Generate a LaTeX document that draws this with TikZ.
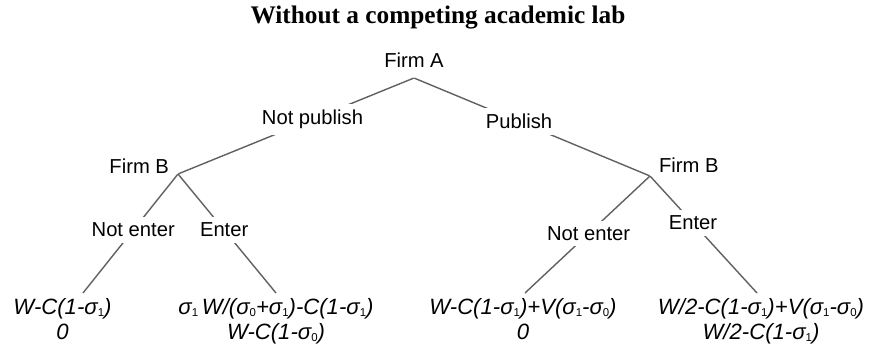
\documentclass[tikz,border=0pt]{standalone}
\usepackage{fontspec}
\setmainfont{Liberation Sans}
\newfontfamily\titlefont{Liberation Serif}
\usepackage{tikz}
\usetikzlibrary{calc}
\newcommand{\sg}[1]{σ\raisebox{-0.1ex}{\fontsize{6.5}{6.5}\selectfont\upshape #1}}

\begin{document}
\begin{tikzpicture}
        \tikzset{VertexStyle/.style = {shape = circle,minimum size = 0,inner sep=0},
                 EdgeStyle/.style = {draw,black!62,line width=0.8pt},
                 ChoiceStyle/.style = {fill=white,text=black,font=\fontsize{11.5}{14}\selectfont},
                 LeafStyle/.style = {align=center,anchor=north,inner sep=2pt,font=\fontsize{12.6}{14.2}\selectfont\itshape},
                 FirmLabel/.style = {font=\fontsize{11.5}{14}\selectfont}}
    \useasboundingbox (0,0) rectangle (17.48,7.08);

    \node[font=\titlefont\bfseries\fontsize{14.4}{17}\selectfont] at (8.76,6.72) (title) {Without a competing academic lab};

    \node[VertexStyle] [label={[FirmLabel,label distance=0.08cm]90:Firm A}] at (8.28,5.52) (A) {};
    \node[VertexStyle] [label={[FirmLabel,label distance=0.05cm,yshift=0.16cm]180:Firm B}] at (3.56,3.60) (B1) {};
    \node[VertexStyle] [label={[FirmLabel,label distance=0.05cm,yshift=0.21cm]0:Firm B}] at (13.00,3.56) (B2) {};

    \node[LeafStyle] at (1.25,1.18) (l1) {W-C(1-\sg{1})\\0};
    \node[LeafStyle] at (5.52,1.18) (l2) {\sg{1}\,W/(\sg{0}+\sg{1})-C(1-\sg{1})\\W-C(1-\sg{0})};
    \node[LeafStyle] at (10.46,1.18) (l3) {W-C(1-\sg{1})+V(\sg{1}-\sg{0})\\0};
    \node[LeafStyle] at (15.22,1.18) (l4) {W/2-C(1-\sg{1})+V(\sg{1}-\sg{0})\\W/2-C(1-\sg{1})};

    \path[EdgeStyle]
        (A) edge node[ChoiceStyle,pos=0.43] {Not publish} (B1)
        (A) edge node[ChoiceStyle,pos=0.445] {Publish} (B2)
        (B1) edge node[ChoiceStyle,pos=0.47] {Not enter} ($(l1.north)+(0.41,0.04)$)
        (B1) edge node[ChoiceStyle,pos=0.47] {Enter} ($(l2.north)+(0,0.04)$)
        (B2) edge node[ChoiceStyle,pos=0.49] {Not enter} ($(l3.north)+(0.04,0.04)$)
        (B2) edge node[ChoiceStyle,pos=0.40] {Enter} ($(l4.north)+(-0.08,0.04)$)
        ;
\end{tikzpicture}
\end{document}
